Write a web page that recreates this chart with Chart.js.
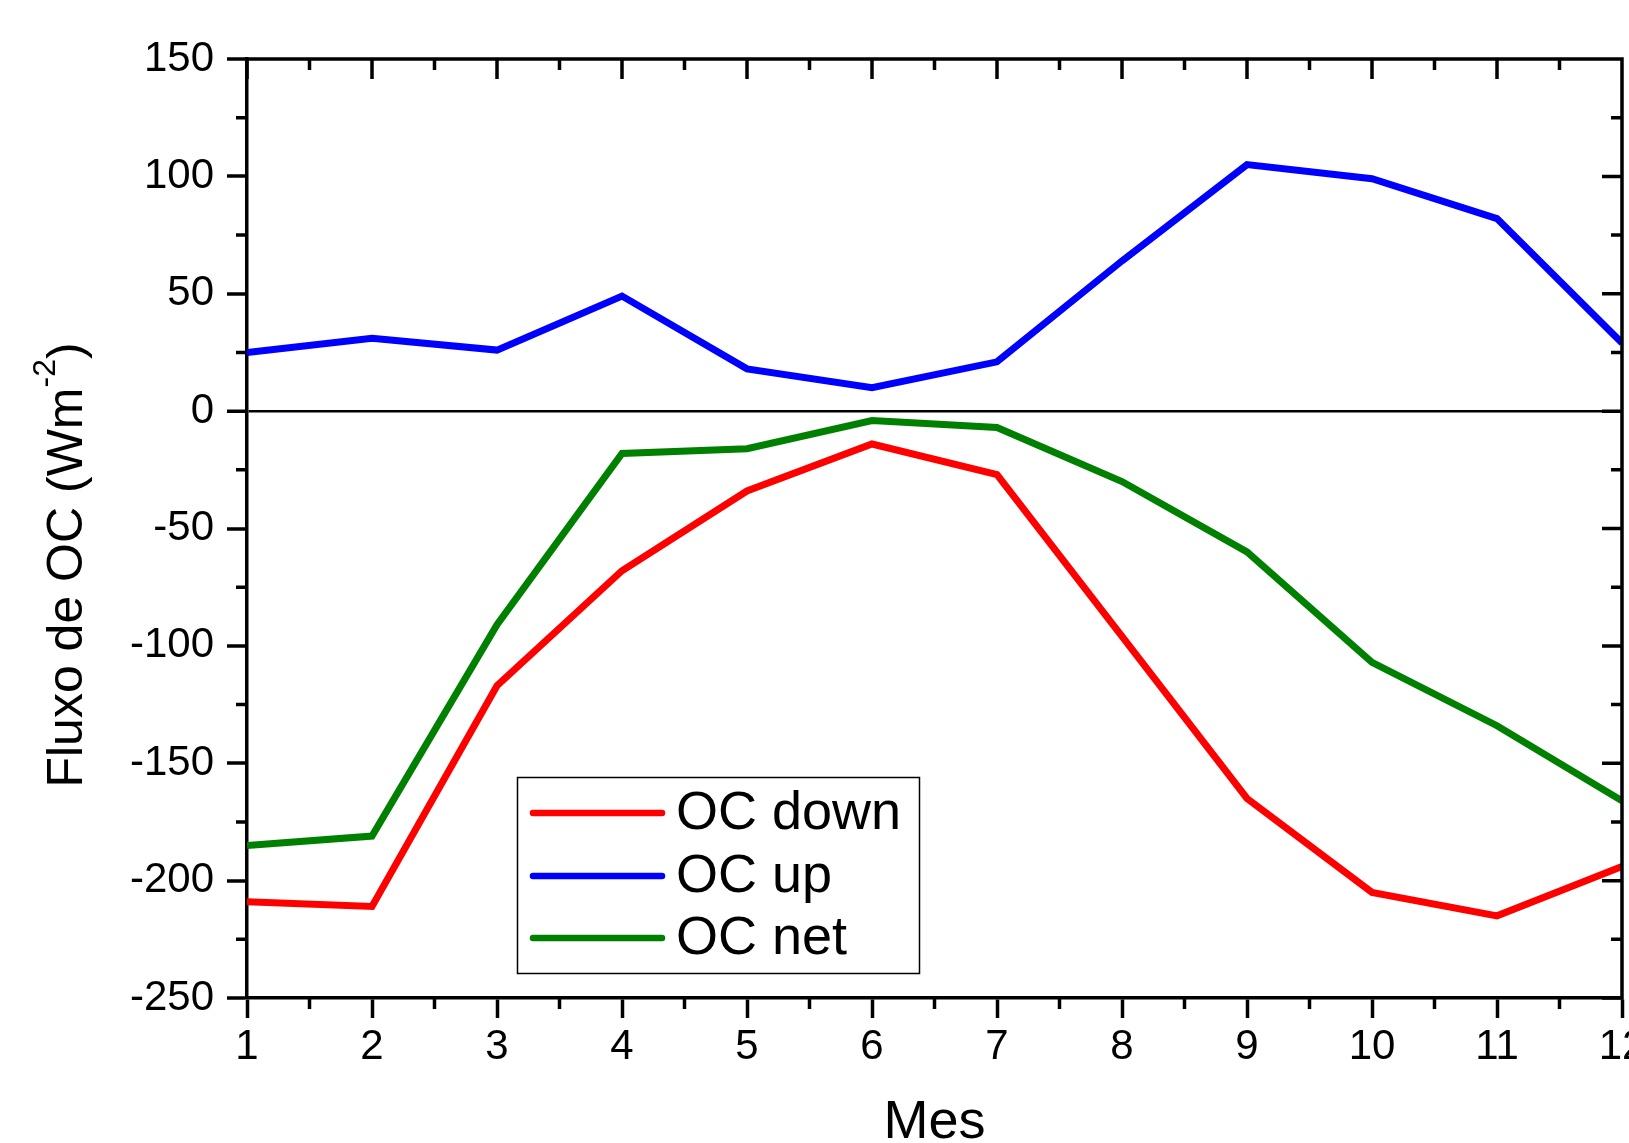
<!DOCTYPE html>
<html><head><meta charset="utf-8">
<script src="https://cdn.jsdelivr.net/npm/chart.js@4.4.0/dist/chart.umd.min.js"></script>
<style>html,body{margin:0;padding:0;background:#fff;}#wrap{width:1629px;height:1143px;}</style>
</head><body><div id="wrap"><canvas id="c" width="1629" height="1143"></canvas></div>
<script>
const months = [1,2,3,4,5,6,7,8,9,10,11,12];
const ocDown = [-209,-211,-117,-68,-34,-14,-27,-96,-165,-205,-215,-194];
const ocUp   = [25,31,26,49,18,10,21,64,105,99,82,29];
const ocNet  = [-185,-181,-91,-18,-16,-4,-7,-30,-60,-107,-134,-166];
const seriesNames = ['OC down','OC up','OC net'];
const seriesColors = ['#ff0000','#0000ff','#008000'];
const yTicks = [-250,-200,-150,-100,-50,0,50,100,150];
const xTitle = 'Mes';
const yTitleMain = 'Fluxo de OC (Wm';
const yTitleSup = '-2';
const yTitleEnd = ')';

const FONT = "'Liberation Sans', Arial, Helvetica, sans-serif";
Chart.defaults.font.family = FONT;
Chart.defaults.color = '#000';

const toPts = arr => months.map((m,i)=>({x:m, y:arr[i]}));

const framePlugin = {
  id: 'frame',
  afterDraw(chart) {
    const {ctx, chartArea: a, scales: {x, y}} = chart;
    ctx.save();
    ctx.strokeStyle = '#000';
    ctx.lineWidth = 3.5;
    ctx.lineCap = 'butt';
    ctx.beginPath();
    ctx.moveTo(a.left - 1.75, a.top); ctx.lineTo(a.right + 1.75, a.top);
    ctx.moveTo(a.right, a.top); ctx.lineTo(a.right, a.bottom + 1.75);
    const MAJ = 20, MIN = 11;
    const xt = x.ticks.map(t => t.value);
    xt.forEach(v => { const px = x.getPixelForValue(v); ctx.moveTo(px, a.top); ctx.lineTo(px, a.top + MAJ); });
    for (let i = 0; i < xt.length - 1; i++) {
      const px = x.getPixelForValue((xt[i] + xt[i+1]) / 2);
      ctx.moveTo(px, a.top); ctx.lineTo(px, a.top + MIN);
      ctx.moveTo(px, a.bottom); ctx.lineTo(px, a.bottom + MIN);
    }
    const yt = y.ticks.map(t => t.value);
    yt.forEach(v => { const py = y.getPixelForValue(v); ctx.moveTo(a.right, py); ctx.lineTo(a.right - MAJ, py); });
    for (let i = 0; i < yt.length - 1; i++) {
      const py = y.getPixelForValue((yt[i] + yt[i+1]) / 2);
      ctx.moveTo(a.left, py); ctx.lineTo(a.left - MIN, py);
      ctx.moveTo(a.right, py); ctx.lineTo(a.right - MIN, py);
    }
    ctx.stroke();

    // legend
    const L = {left: 517, top: 777, right: 919, bottom: 973, lineX0: 533, lineX1: 662, textX: 676, rowY: [813, 876, 938]};
    ctx.lineWidth = 1.5;
    ctx.strokeRect(L.left + 0.5, L.top + 0.5, L.right - L.left, L.bottom - L.top);
    ctx.font = '54px ' + FONT;
    ctx.textBaseline = 'middle';
    ctx.textAlign = 'left';
    ctx.fillStyle = '#000';
    chart.data.datasets.forEach((ds, i) => {
      const yy = L.rowY[i];
      ctx.beginPath();
      ctx.strokeStyle = ds.borderColor;
      ctx.lineWidth = 6.5;
      ctx.lineCap = 'round';
      ctx.moveTo(L.lineX0, yy); ctx.lineTo(L.lineX1, yy);
      ctx.stroke();
      ctx.fillText(ds.label, L.textX, yy + 1);
    });

    // y axis title with superscript
    const cx = 82, cy = 565;
    ctx.translate(cx, cy);
    ctx.rotate(-Math.PI / 2);
    ctx.textBaseline = 'alphabetic';
    const mainF = '50px ' + FONT, supF = '32px ' + FONT;
    ctx.font = mainF; const w1 = ctx.measureText(yTitleMain).width, w3 = ctx.measureText(yTitleEnd).width;
    ctx.font = supF; const w2 = ctx.measureText(yTitleSup).width;
    let sx = -(w1 + w2 + w3) / 2;
    ctx.font = mainF; ctx.fillText(yTitleMain, sx, 0); sx += w1;
    ctx.font = supF; ctx.fillText(yTitleSup, sx, -27); sx += w2;
    ctx.font = mainF; ctx.fillText(yTitleEnd, sx, 0);
    ctx.restore();
  }
};

new Chart(document.getElementById('c'), {
  type: 'line',
  data: {
    datasets: [
      {label: seriesNames[0], data: toPts(ocDown), borderColor: seriesColors[0]},
      {label: seriesNames[1], data: toPts(ocUp), borderColor: seriesColors[1]},
      {label: seriesNames[2], data: toPts(ocNet), borderColor: seriesColors[2]}
    ].map(d => Object.assign(d, {borderWidth: 7, pointRadius: 0, tension: 0, fill: false, borderJoinStyle: 'miter', borderCapStyle: 'butt'}))
  },
  options: {
    responsive: false,
    animation: false,
    devicePixelRatio: 1,
    layout: {padding: {top: 59, right: 7, left: 0, bottom: 0}},
    plugins: {legend: {display: false}, tooltip: {enabled: false}},
    scales: {
      x: {
        type: 'linear', position: 'bottom', min: months[0], max: months[months.length-1],
        afterBuildTicks: s => { s.ticks = months.map(v => ({value: v})); },
        ticks: {font: {size: 42}, color: '#000', padding: 4, maxRotation: 0, autoSkip: false},
        grid: {drawOnChartArea: false, drawTicks: true, tickLength: 20, tickColor: '#000', tickWidth: 3.5},
        border: {display: true, color: '#000', width: 3.5},
        title: {display: true, text: xTitle, font: {size: 54}, color: '#000', padding: {top: 0, bottom: -13}},
        afterFit: s => { s.height = 145; s.paddingLeft = 0; s.paddingRight = 0; }
      },
      y: {
        type: 'linear', position: 'left', min: yTicks[0], max: yTicks[yTicks.length-1],
        afterBuildTicks: s => { s.ticks = yTicks.map(v => ({value: v})); },
        ticks: {font: {size: 42}, color: '#000', padding: 13},
        grid: {
          drawOnChartArea: true, drawTicks: true, tickLength: 20, tickColor: '#000', tickWidth: 3.5,
          color: c => (c.tick && c.tick.value === 0) ? '#000' : 'rgba(0,0,0,0)',
          lineWidth: c => (c.tick && c.tick.value === 0) ? 2.5 : 0
        },
        border: {display: true, color: '#000', width: 3.5},
        title: {display: false},
        afterFit: s => { s.width = 247; s.paddingTop = 0; s.paddingBottom = 0; }
      }
    }
  },
  plugins: [framePlugin]
});
</script>
</body></html>
